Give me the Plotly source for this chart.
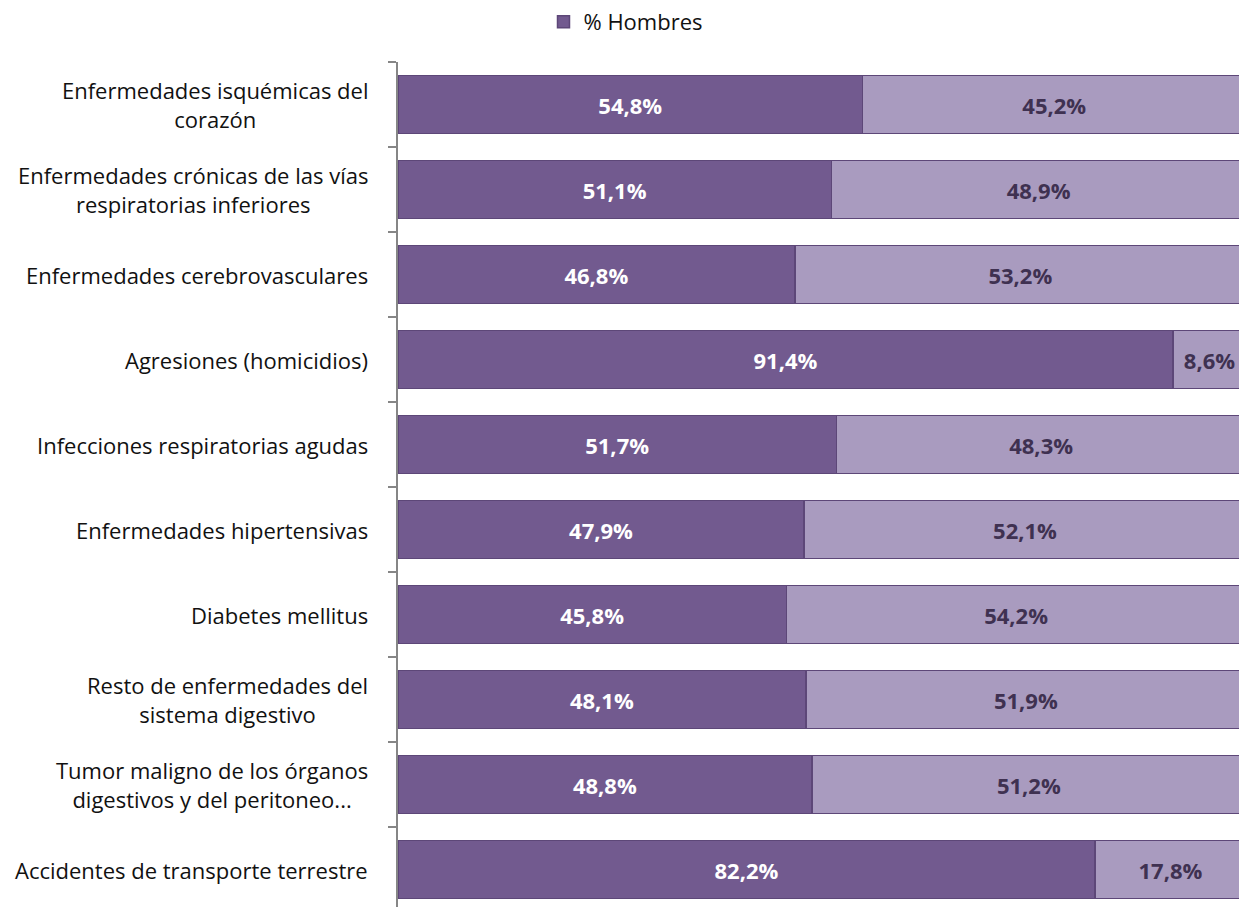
import plotly.graph_objects as go

categories = [
    "Enfermedades isquémicas del<br>corazón",
    "Enfermedades crónicas de las vías<br>respiratorias inferiores",
    "Enfermedades cerebrovasculares",
    "Agresiones (homicidios)",
    "Infecciones respiratorias agudas",
    "Enfermedades hipertensivas",
    "Diabetes mellitus",
    "Resto de enfermedades del<br>sistema digestivo",
    "Tumor maligno de los órganos<br>digestivos y del peritoneo...",
    "Accidentes de transporte terrestre",
]
hombres = [54.8, 51.1, 46.8, 91.4, 51.7, 47.9, 45.8, 48.1, 48.8, 82.2]
mujeres = [45.2, 48.9, 53.2, 8.6, 48.3, 52.1, 54.2, 51.9, 51.2, 17.8]

# bottom-to-top order for plotly
cats = categories[::-1]
h = hombres[::-1]
m = mujeres[::-1]

def fmt(v):
    return f"{v:.1f}%".replace(".", ",")

FONT = "Open Sans"
W, H = 1239, 907
L, T = 398, 62
PW = W - L         # plot width in px
PH = H - T         # plot height in px

fig = go.Figure()
fig.add_trace(go.Bar(
    y=cats, x=h, orientation="h", name="% Hombres",
    marker=dict(color="#725A8F", line=dict(color="#5D4778", width=1.5)),
    text=[fmt(v) for v in h], textposition="inside", insidetextanchor="middle",
    textfont=dict(family=FONT, size=22, color="white", weight="bold"),
    showlegend=True,
))
fig.add_trace(go.Bar(
    y=cats, x=m, orientation="h", name="% Mujeres",
    marker=dict(color="#A99BBF", line=dict(color="#5D4778", width=1.5)),
    text=[fmt(v) for v in m], textposition="inside", insidetextanchor="middle",
    textfont=dict(family=FONT, size=22, color="#3F3151", weight="bold"),
    showlegend=False,
))

# category labels as annotations (centered multi-line, right edge at x=370)
for c in cats:
    fig.add_annotation(
        x=-(L - 370) / PW, xref="paper", y=c, yref="y",
        text=c, showarrow=False, xanchor="right", align="center",
        font=dict(family=FONT, size=22, color="#111111"),
    )

fig.update_layout(
    width=W, height=H,
    margin=dict(l=L, r=0, t=T, b=0),
    barmode="stack", bargap=0.32,
    plot_bgcolor="white", paper_bgcolor="white",
    font=dict(family=FONT, size=22, color="#111111"),
    uniformtext=dict(minsize=10, mode="show"),
    legend=dict(
        orientation="h", xref="container", yref="container",
        x=626 / W, y=1 - 22 / H, xanchor="center", yanchor="middle",
        font=dict(family=FONT, size=22, color="#111111"),
        itemwidth=30,
    ),
    xaxis=dict(range=[0, 100 * PW / 848], visible=False, fixedrange=True),
    yaxis=dict(
        type="category", range=[-0.5 - (PH - 850) / 85, 9.5],
        showline=True, linecolor="#868686", linewidth=2,
        ticks="outside", tickson="boundaries", ticklen=8,
        tickcolor="#868686", tickwidth=2,
        showticklabels=False, showgrid=False, zeroline=False,
    ),
)

fig.write_html(
    "out.html",
    config={"displayModeBar": False},
    post_script="document.body.style.margin='0';document.body.style.overflow='hidden';",
)
